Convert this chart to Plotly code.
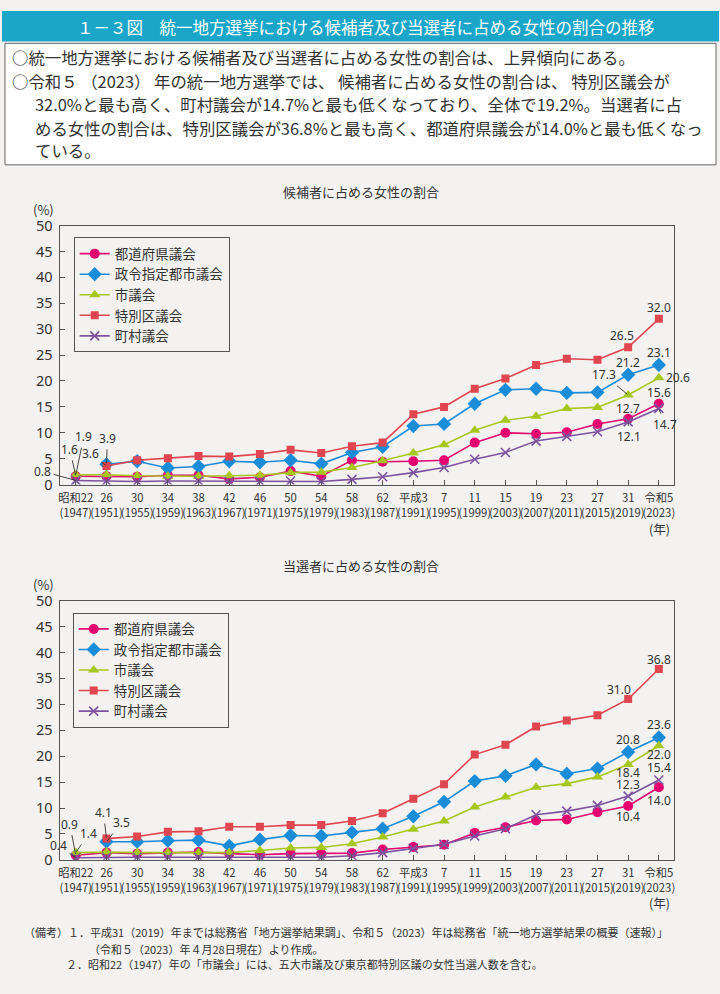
import plotly.graph_objects as go

# ---------------- data ----------------
years = [1947, 1951, 1955, 1959, 1963, 1967, 1971, 1975, 1979, 1983,
         1987, 1991, 1995, 1999, 2003, 2007, 2011, 2015, 2019, 2023]
tick_top = ["昭和22", "26", "30", "34", "38", "42", "46", "50", "54", "58",
            "62", "平成3", "7", "11", "15", "19", "23", "27", "31", "令和5"]
tick_labels = [f"{t}<br>({y})" for t, y in zip(tick_top, years)]

series_names = ["都道府県議会", "政令指定都市議会", "市議会", "特別区議会", "町村議会"]

# 候補者に占める女性の割合 (%)
pref_c  = [1.6, 1.6, 1.5, 1.8, 1.8, 1.1, 1.4, 2.6, 1.6, 4.7, 4.4, 4.5, 4.7, 8.1, 10.0, 9.8, 10.1, 11.7, 12.7, 15.6]
desig_c = [None, 3.9, 4.5, 3.2, 3.5, 4.5, 4.3, 4.7, 4.0, 6.2, 7.3, 11.3, 11.7, 15.6, 18.3, 18.5, 17.7, 17.8, 21.2, 23.1]
city_c  = [1.9, 1.9, 1.7, 1.6, 1.6, 1.7, 1.8, 2.3, 2.4, 3.3, 4.6, 6.1, 7.7, 10.5, 12.4, 13.2, 14.7, 14.9, 17.3, 20.6]
ward_c  = [None, 3.6, 4.7, 5.1, 5.5, 5.4, 5.9, 6.7, 6.1, 7.4, 8.1, 13.6, 15.0, 18.5, 20.5, 23.1, 24.3, 24.1, 26.5, 32.0]
town_c  = [0.8, 0.7, 0.6, 0.7, 0.7, 0.6, 0.6, 0.7, 0.6, 1.0, 1.5, 2.3, 3.3, 4.9, 6.2, 8.4, 9.3, 10.2, 12.1, 14.7]

# 当選者に占める女性の割合 (%)
pref_e  = [0.9, 1.4, 1.2, 1.4, 1.5, 1.2, 1.0, 1.2, 1.2, 1.3, 2.0, 2.5, 2.9, 5.2, 6.3, 7.6, 7.8, 9.2, 10.4, 14.0]
desig_e = [None, 3.5, 3.5, 3.7, 3.8, 2.7, 3.9, 4.7, 4.6, 5.3, 6.0, 8.4, 11.2, 15.2, 16.2, 18.4, 16.6, 17.6, 20.8, 23.6]
city_e  = [1.4, 1.5, 1.4, 1.4, 1.4, 1.4, 1.8, 2.3, 2.4, 3.1, 4.4, 5.9, 7.5, 10.2, 12.1, 14.0, 14.7, 16.0, 18.4, 22.0]
ward_e  = [None, 4.1, 4.5, 5.4, 5.5, 6.4, 6.4, 6.7, 6.7, 7.5, 9.0, 11.8, 14.6, 20.3, 22.2, 25.7, 26.9, 27.9, 31.0, 36.8]
town_e  = [0.4, 0.5, 0.5, 0.5, 0.5, 0.5, 0.5, 0.5, 0.5, 0.8, 1.4, 2.2, 3.0, 4.6, 6.0, 8.7, 9.4, 10.5, 12.3, 15.4]

cand = [pref_c, desig_c, city_c, ward_c, town_c]
elec = [pref_e, desig_e, city_e, ward_e, town_e]

# ---------------- styles ----------------
W, H = 720, 994
BG = "#f3f2f0"
TXT = "#333333"
JP = "Noto Sans CJK JP"
colors = ["#E4006F", "#1A8CD8", "#A8C71E", "#E0464F", "#7D53A0"]
symbols = ["circle", "diamond", "triangle-up", "square", "x-thin"]
msizes = [10, 11, 10, 8, 9]

def py(p):  # pixel-from-top -> paper y
    return 1 - p / H

def px(p):
    return p / W

fig = go.Figure()

for panel, data in enumerate([cand, elec]):
    for k in range(5):
        mk = dict(symbol=symbols[k], size=msizes[k], color=colors[k])
        if symbols[k] == "x-thin":
            mk["line"] = dict(width=1.6, color=colors[k])
        fig.add_trace(go.Scatter(
            x=years, y=data[k], name=series_names[k], mode="lines+markers",
            line=dict(color=colors[k], width=1.6), marker=mk,
            connectgaps=False,
            xaxis="x" if panel == 0 else "x2",
            yaxis="y" if panel == 0 else "y2",
            legend="legend" if panel == 0 else "legend2",
            hoverinfo="skip",
        ))

# ---------------- value labels ----------------
# (series index, year index, dx, dy, leader)  dx/dy in pixels (dy: + = down)
labels_c = [
    (0, 0, -6, -27, True), (2, 0, 8, -38, True), (4, 0, -33, -9, True),
    (1, 1, 1, -26, True), (3, 1, -16, -12, True),
    (3, 18, -6, -12, False), (3, 19, 0, -11, False),
    (1, 18, 0, -12, False), (1, 19, 0, -12, False),
    (2, 19, 19, 0, False), (2, 18, -24, -20, True),
    (0, 19, 0, -11, False), (0, 18, 0, -10, False),
    (4, 18, 1, 15, True), (4, 19, 6, 16, True),
]
labels_e = [
    (0, 0, -6, -31, True), (2, 0, 13, -19, True), (4, 0, -17, -12, True),
    (3, 1, -3, -26, True), (1, 1, 15, -19, True),
    (3, 18, -9, -10, False), (3, 19, 0, -10, False),
    (1, 18, 0, -13, False), (1, 19, 0, -13, False),
    (2, 19, 0, 9, False), (2, 18, 0, 8, False),
    (4, 19, 0, -13, False), (4, 18, 0, -12, False),
    (0, 19, 0, 13, False), (0, 18, 0, 11, False),
]

annotations = []
for data, labs, xr, yr in [(cand, labels_c, "x", "y"), (elec, labels_e, "x2", "y2")]:
    for s, i, dx, dy, leader in labs:
        v = data[s][i]
        a = dict(x=years[i], y=v, xref=xr, yref=yr, text=f"{v:.1f}",
                 font=dict(size=12, color=TXT, family="Noto Sans, " + JP))
        if leader:
            a.update(showarrow=True, arrowhead=0, arrowwidth=0.9, arrowcolor="#333",
                     ax=dx, ay=dy, standoff=1, startstandoff=1)
        else:
            a.update(showarrow=False, xshift=dx, yshift=-dy)
        annotations.append(a)

# ---------------- text ----------------
def txt(x, y, s, size, anchor="left", color=TXT, family=JP):
    annotations.append(dict(x=px(x), y=py(y), xref="paper", yref="paper", text=s,
                            showarrow=False, xanchor=anchor, yanchor="middle",
                            font=dict(size=size, color=color, family=family)))

txt(73, 16, "１－３図　統一地方選挙における候補者及び当選者に占める女性の割合の推移", 16.5, color="white")
txt(8, 47, "○統一地方選挙における候補者及び当選者に占める女性の割合は、上昇傾向にある。", 16.4)
txt(8, 71, "○令和５ （2023） 年の統一地方選挙では、 候補者に占める女性の割合は、 特別区議会が", 16.4)
txt(31, 95, "32.0%と最も高く、町村議会が14.7%と最も低くなっており、全体で19.2%。当選者に占", 16.4)
txt(31, 119, "める女性の割合は、特別区議会が36.8%と最も高く、都道府県議会が14.0%と最も低くなっ", 16.4)
txt(31, 142, "ている。", 16.4)

txt(360, 184, "候補者に占める女性の割合", 13, anchor="center")
txt(42, 203, "(%)", 13, anchor="center")
txt(660, 528, "(年)", 12.5, anchor="center")
txt(360, 566, "当選者に占める女性の割合", 13, anchor="center")
txt(42, 585, "(%)", 13, anchor="center")
txt(660, 910, "(年)", 12.5, anchor="center")

txt(20, 940, "（備考）１．平成31（2019）年までは総務省「地方選挙結果調」、令和５（2023）年は総務省「統一地方選挙結果の概要（速報）」", 11)
txt(85, 957, "（令和５（2023）年４月28日現在）より作成。", 11)
txt(62, 973, "２．昭和22（1947）年の「市議会」には、五大市議及び東京都特別区議の女性当選人数を含む。", 11)

shapes = [
    dict(type="rect", xref="paper", yref="paper", x0=0, x1=1, y0=py(31), y1=1,
         fillcolor="#1BA6C9", line=dict(width=0), layer="below"),
    dict(type="rect", xref="paper", yref="paper", x0=px(3), x1=px(717), y0=py(157), y1=py(33),
         fillcolor="white", line=dict(width=1, color="#666"), layer="below"),
]

# ---------------- axes ----------------
xdom = [px(58.7), px(675)]
def xax(anchor):
    return dict(domain=xdom, range=[1945, 2025], tickvals=years, ticktext=tick_labels,
                tickangle=0, ticks="inside", ticklen=5, tickcolor="#555", showline=True,
                mirror=True, linecolor="#555", linewidth=1, showgrid=False, zeroline=False,
                tickfont=dict(size=11.3, color=TXT, family=JP), ticklabelstandoff=3,
                anchor=anchor, fixedrange=True)

def yax(dom, anchor):
    return dict(domain=dom, range=[0, 50], dtick=5, ticks="inside", ticklen=5,
                tickcolor="#555", showline=True, mirror=True, linecolor="#555",
                linewidth=1, showgrid=False, zeroline=False, anchor=anchor,
                tickfont=dict(size=14.5, color=TXT, family="Noto Sans, " + JP),
                ticklabelstandoff=4, fixedrange=True)

legend_common = dict(bgcolor="rgba(0,0,0,0)", bordercolor="#555", borderwidth=1,
                     font=dict(size=13.5, color=TXT, family=JP), xanchor="left",
                     yanchor="top", tracegroupgap=0, itemclick=False, itemdoubleclick=False)

fig.update_layout(
    width=W, height=H, margin=dict(l=0, r=0, t=0, b=0),
    paper_bgcolor=BG, plot_bgcolor=BG,
    font=dict(family=JP, color=TXT),
    xaxis=xax("y"), yaxis=yax([py(483.3), py(219)], "x"),
    xaxis2=xax("y2"), yaxis2=yax([py(866.3), py(601.7)], "x2"),
    legend=dict(x=px(72), y=py(231), **legend_common),
    legend2=dict(x=px(71), y=py(614), **legend_common),
    annotations=annotations, shapes=shapes, showlegend=True, hovermode=False,
)

fig.write_html(
    "out.html",
    config={"displayModeBar": False},
    post_script="document.body.style.margin='0';document.body.style.padding='0';"
                "document.documentElement.style.overflow='hidden';",
)
